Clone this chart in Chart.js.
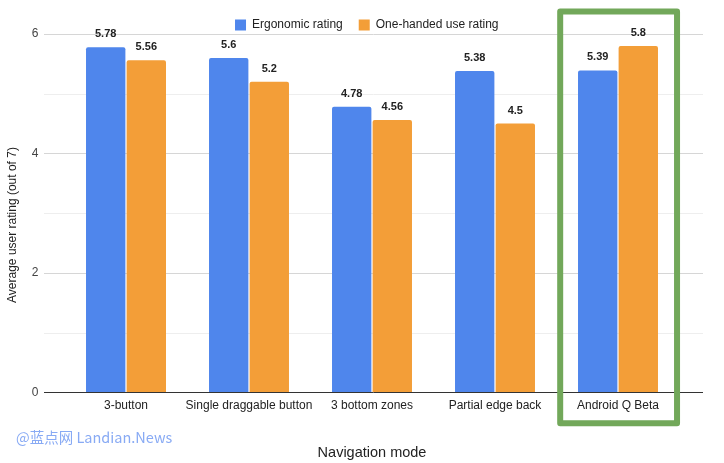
<!DOCTYPE html>
<html>
<head>
<meta charset="utf-8">
<script src="https://cdn.jsdelivr.net/npm/chart.js@4/dist/chart.umd.min.js"></script>
<style>
  body { margin: 0; background: #fff; }
  #wrap { position: relative; width: 724px; height: 463px; }
  #mark { position: absolute; left: 16px; top: 427px; font: 14.5px "Noto Sans CJK SC", "Liberation Sans", sans-serif; line-height: 20px; color: #88aaf4; white-space: nowrap; }
</style>
</head>
<body>
<div id="wrap">
  <canvas id="myChart" width="724" height="463"></canvas>
  <div id="mark">@蓝点网 Landian.News</div>
</div>
<script>
var modes = ['3-button', 'Single draggable button', '3 bottom zones', 'Partial edge back', 'Android Q Beta'];
var ergonomic = [5.78, 5.6, 4.78, 5.38, 5.39];
var oneHanded = [5.56, 5.2, 4.56, 4.5, 5.8];
var yTicks = [0, 2, 4, 6];
var yTitle = 'Average user rating (out of 7)';

var fontName = '"Liberation Sans", Arial, sans-serif';

// keep the legend band at a fixed height and centred on the page, not the plot
var legendHeight = {
	id: 'legendHeight',
	afterInit: function(chart) {
		var lg = chart.legend;
		var fit = lg.fit;
		lg.fit = function() {
			fit.call(this);
			this.height = 34;
		};
	},
	afterLayout: function(chart) {
		chart.legend.left += 27;
		chart.legend.right += 27;
		chart.legend.top += 3;
	}
};

// grid lines run wider than the bar area, like the sheets export
var gridPlugin = {
	id: 'grid',
	beforeDatasetsDraw: function(chart) {
		var ctx = chart.ctx, ys = chart.scales.y;
		ctx.save();
		for (var v = 1; v <= 6; v++) {
			var y = Math.round(ys.getPixelForValue(v)) + 0.5;
			ctx.strokeStyle = (v % 2) ? '#eeeeee' : '#d6d6d6';
			ctx.lineWidth = 1;
			ctx.beginPath(); ctx.moveTo(44, y); ctx.lineTo(703, y); ctx.stroke();
		}
		ctx.restore();
	},
	afterDatasetsDraw: function(chart) {
		var ctx = chart.ctx, ys = chart.scales.y, xs = chart.scales.x;
		ctx.save();
		var y0 = Math.round(ys.getPixelForValue(0)) + 0.5;
		ctx.strokeStyle = '#333';
		ctx.lineWidth = 1;
		ctx.beginPath(); ctx.moveTo(44, y0); ctx.lineTo(703, y0); ctx.stroke();

		// value labels
		ctx.font = 'bold 11px ' + fontName;
		ctx.fillStyle = '#222';
		ctx.textAlign = 'center';
		ctx.textBaseline = 'alphabetic';
		chart.data.datasets.forEach(function(ds, i) {
			chart.getDatasetMeta(i).data.forEach(function(bar, j) {
				ctx.fillText(String(ds.data[j]), bar.x, bar.y - 10);
			});
		});

		// y title sits a bit lower than the plot centre
		ctx.save();
		ctx.translate(12.5, 225);
		ctx.rotate(-Math.PI / 2);
		ctx.font = '12px ' + fontName;
		ctx.textBaseline = 'middle';
		ctx.fillText(yTitle, 0, 0);
		ctx.restore();

		// highlight box round the last category
		var step = xs.getPixelForValue(1) - xs.getPixelForValue(0);
		var cx = xs.getPixelForValue(4);
		var left = cx - step * 0.47, right = cx + step * 0.48;
		var top = 11.5, bottom = ys.getPixelForValue(0) + 31;
		ctx.strokeStyle = '#72a85a';
		ctx.lineWidth = 6;
		ctx.lineJoin = 'round';
		ctx.beginPath();
		ctx.rect(left, top, right - left, bottom - top);
		ctx.stroke();
		ctx.restore();
	}
};

let myChart = document.getElementById('myChart').getContext('2d');
let ratingChart = new Chart(myChart, {
	type: 'bar',
	data: {
		labels: modes,
		datasets: [
			{
				label: 'Ergonomic rating',
				data: ergonomic,
				backgroundColor: '#4f86ec',
				borderRadius: 2
			},
			{
				label: 'One-handed use rating',
				data: oneHanded,
				backgroundColor: '#f39e38',
				borderRadius: 2
			}
		]
	},
	options: {
		responsive: false,
		animation: false,
		layout: { padding: { top: 0, right: 44.5, left: 0, bottom: 1 } },
		categoryPercentage: 0.66,
		barPercentage: 0.97,
		plugins: {
			legend: {
				position: 'top',
				labels: {
					boxWidth: 11,
					boxHeight: 11,
					padding: 16,
					color: '#222',
					font: { family: fontName, size: 12 }
				}
			},
			tooltip: { enabled: false }
		},
		scales: {
			x: {
				grid: { display: false, drawTicks: false },
				border: { display: false },
				ticks: { color: '#222', padding: 6, autoSkip: false, font: { family: fontName, size: 12 }, maxRotation: 0 },
				title: { display: true, text: 'Navigation mode', color: '#222', font: { family: fontName, size: 14.5 }, padding: { top: 26, bottom: 0 } }
			},
			y: {
				min: 0,
				max: 6,
				afterBuildTicks: function(scale) {
					scale.ticks = yTicks.map(function(v) { return { value: v }; });
				},
				afterFit: function(scale) { scale.width = 64.5; },
				grid: { display: false, drawTicks: false },
				border: { display: false },
				ticks: { color: '#444', padding: 26, font: { family: fontName, size: 12 } }
			}
		}
	},
	plugins: [legendHeight, gridPlugin]
});
</script>
</body>
</html>
